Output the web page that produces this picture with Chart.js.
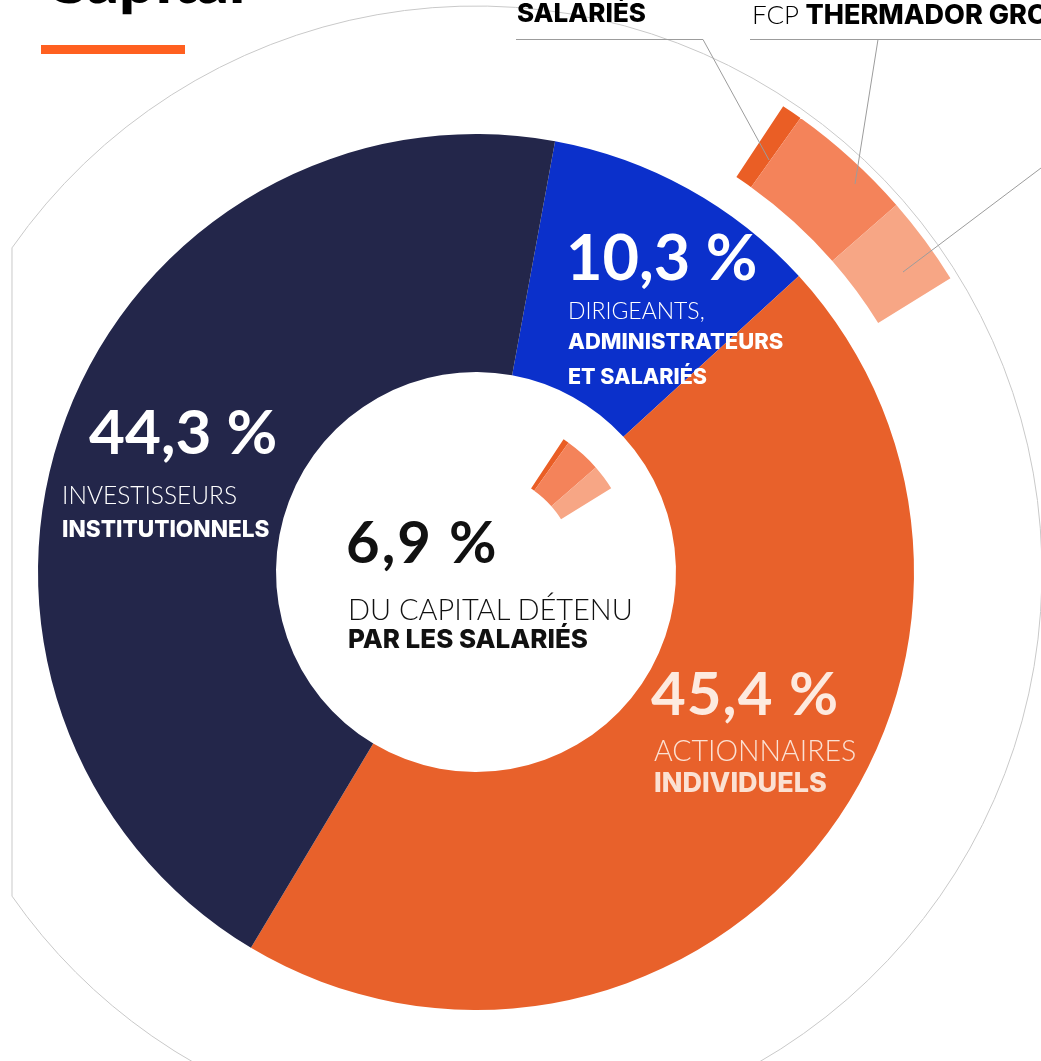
<!DOCTYPE html>
<html>
<head>
<meta charset="utf-8">
<script src="https://cdn.jsdelivr.net/npm/chart.js@4.4.1/dist/chart.umd.min.js"></script>
<style>
    body { margin: 0; width: 1041px; height: 1061px; overflow: hidden; background: #fff; position: relative; font-family: Lato, "Open Sans", sans-serif; }
    #wrap { position: absolute; left: -124px; top: -28px; width: 1200px; height: 1200px; }
    .t { position: absolute; line-height: 1; white-space: nowrap; }
    .big { font-weight: 700; }
    .light { font-weight: 300; }
    .heavy { font-family: Inter, Lato, sans-serif; font-weight: 800; }
    #lines { position: absolute; left: 0; top: 0; }
</style>
</head>
<body>
<div id="wrap"><canvas id="myChart" width="1200" height="1200"></canvas></div>

<svg id="lines" width="1041" height="1061">
    <g stroke="#9c9c9c" stroke-width="1" fill="none">
        <polyline points="516,39.5 703,39.5 769,160" />
        <line x1="750" y1="39.5" x2="1041" y2="39.5" />
        <line x1="878" y1="39.5" x2="855" y2="184" />
        <line x1="1041" y1="168" x2="903" y2="272" />
    </g>
</svg>

<div class="t" style="left:44px; top:-53px; font-size:64px; font-weight:900; color:#000;">Capital</div>
<div style="position:absolute; left:41px; top:45px; width:144px; height:9px; background:#ff6020;"></div>

<div class="t heavy" style="left:517px; top:0px; font-size:26px; color:#000;">SALARIÉS</div>
<div class="t" style="left:752px; top:1px; font-size:26px; color:#000;"><span class="light">FCP </span><span class="heavy" style="font-size:27px;">THERMADOR GROUPE</span></div>

<div class="t big" style="left:566px; top:224px; font-size:63px; color:#fff;">10,3 %</div>
<div class="t light" style="left:568px; top:299px; font-size:23px; color:#fff;">DIRIGEANTS,</div>
<div class="t heavy" style="left:568px; top:330px; font-size:22px; color:#fff;">ADMINISTRATEURS</div>
<div class="t heavy" style="left:568px; top:366px; font-size:21.5px; color:#fff;">ET SALARIÉS</div>

<div class="t big" style="left:89px; top:399px; font-size:62px; color:#fff;">44,3 %</div>
<div class="t light" style="left:62px; top:483px; font-size:24.5px; color:#fff;">INVESTISSEURS</div>
<div class="t heavy" style="left:62px; top:518px; font-size:22.6px; color:#fff;">INSTITUTIONNELS</div>

<div class="t big" style="left:346px; top:512px; font-size:58px; letter-spacing:2px; color:#111;">6,9 %</div>
<div class="t light" style="left:348px; top:594px; font-size:29px; color:#111;">DU CAPITAL DÉTENU</div>
<div class="t heavy" style="left:348px; top:626px; font-size:26px; color:#111;">PAR LES SALARIÉS</div>

<div class="t big" style="left:651px; top:662px; font-size:60px; letter-spacing:1px; color:#fdeadf;">45,4 %</div>
<div class="t light" style="left:654px; top:736px; font-size:28.5px; color:#fbe1d3;">ACTIONNAIRES</div>
<div class="t heavy" style="left:654px; top:769px; font-size:27px; color:#fbe1d3;">INDIVIDUELS</div>

<script>
// répartition du capital (%)
const shareLabels = ['Dirigeants, administrateurs et salariés', 'Actionnaires individuels', 'Investisseurs institutionnels'];
const shareValues = [10.3, 45.4, 44.3];
const shareColors = ['#0b30cb', '#e8612b', '#23264a'];

// détail des 6,9 % détenus par les salariés
const staffLabels = ['Salariés', 'FCP Thermador Groupe', 'Autre FCP'];
const staffValues = [0.6, 3.7, 2.6];
const staffColors = ['#ea5e25', '#f4835a', '#f7a685'];

const staffTotal = staffValues.reduce((a, b) => a + b, 0);

// gray circle with its left side cut off
const frameCircle = {
    id: 'frameCircle',
    beforeDatasetsDraw(chart) {
        const arc = chart.getDatasetMeta(2).data[0];
        const ctx = chart.ctx;
        const r = 566;
        const th = Math.acos(464 / r);
        ctx.save();
        ctx.strokeStyle = '#c9c9c9';
        ctx.lineWidth = 1;
        ctx.beginPath();
        ctx.arc(arc.x, arc.y, r, Math.PI + th, 3 * Math.PI - th);
        ctx.closePath();
        ctx.stroke();
        ctx.restore();
    }
};

const spacer = { data: [1], backgroundColor: ['rgba(0,0,0,0)'], borderWidth: 0 };

const ctx = document.getElementById('myChart').getContext('2d');
const myChart = new Chart(ctx, {
    type: 'doughnut',
    data: {
        labels: shareLabels,
        datasets: [
            {
                label: 'outer',
                data: staffValues,
                backgroundColor: staffColors,
                borderWidth: 0,
                rotation: 33.4,
                circumference: staffTotal * 3.6,
                weight: 85
            },
            Object.assign({ weight: 35 }, spacer),
            {
                label: 'capital',
                data: shareValues,
                backgroundColor: shareColors,
                borderWidth: 0,
                rotation: 10.4,
                weight: 238
            },
            Object.assign({ weight: 41 }, spacer),
            {
                label: 'inner',
                data: staffValues,
                backgroundColor: staffColors,
                borderWidth: 0,
                rotation: 33.4,
                circumference: staffTotal * 3.6,
                weight: 59
            }
        ]
    },
    options: {
        responsive: false,
        animation: false,
        events: [],
        cutout: 100,
        layout: { padding: 42 },
        plugins: {
            legend: { display: false },
            tooltip: { enabled: false }
        }
    },
    plugins: [frameCircle]
});
</script>
</body>
</html>
